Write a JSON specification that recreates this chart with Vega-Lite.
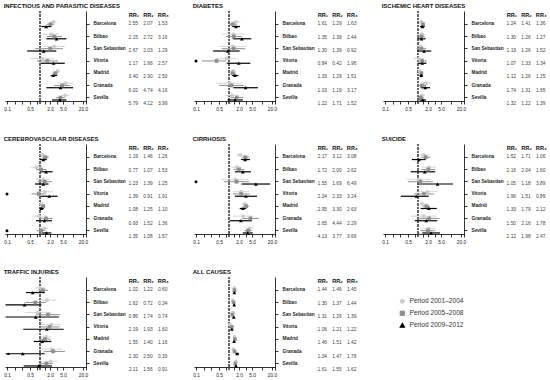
{
"$schema":"https://vega.github.io/schema/vega-lite/v6.json",
"padding":{"left":3,"top":2,"right":0,"bottom":0},
"datasets":{
"ci":[
{"c":"inf","city":"Barcelona","p":"Period 2001–2004","rr":2.55,"lo":2.0,"hi":3.2},
{"c":"inf","city":"Barcelona","p":"Period 2005–2008","rr":2.07,"lo":1.6,"hi":2.7},
{"c":"inf","city":"Barcelona","p":"Period 2009–2012","rr":1.53,"lo":1.1,"hi":2.2},
{"c":"inf","city":"Bilbao","p":"Period 2001–2004","rr":2.15,"lo":1.2,"hi":3.9},
{"c":"inf","city":"Bilbao","p":"Period 2005–2008","rr":2.72,"lo":1.6,"hi":4.6},
{"c":"inf","city":"Bilbao","p":"Period 2009–2012","rr":3.16,"lo":1.55,"hi":6.3},
{"c":"inf","city":"San Sebastian","p":"Period 2001–2004","rr":2.67,"lo":1.2,"hi":5.8},
{"c":"inf","city":"San Sebastian","p":"Period 2005–2008","rr":2.03,"lo":0.7,"hi":4.9},
{"c":"inf","city":"San Sebastian","p":"Period 2009–2012","rr":1.29,"lo":0.41,"hi":3.1},
{"c":"inf","city":"Vitoria","p":"Period 2001–2004","rr":1.17,"lo":0.5,"hi":2.7},
{"c":"inf","city":"Vitoria","p":"Period 2005–2008","rr":1.66,"lo":0.8,"hi":3.5},
{"c":"inf","city":"Vitoria","p":"Period 2009–2012","rr":2.57,"lo":1.05,"hi":5.6},
{"c":"inf","city":"Madrid","p":"Period 2001–2004","rr":3.40,"lo":2.8,"hi":4.1},
{"c":"inf","city":"Madrid","p":"Period 2005–2008","rr":2.90,"lo":2.4,"hi":3.5},
{"c":"inf","city":"Madrid","p":"Period 2009–2012","rr":2.50,"lo":2.1,"hi":3.3},
{"c":"inf","city":"Granada","p":"Period 2001–2004","rr":6.02,"lo":3.5,"hi":10.3},
{"c":"inf","city":"Granada","p":"Period 2005–2008","rr":4.74,"lo":2.7,"hi":8.3},
{"c":"inf","city":"Granada","p":"Period 2009–2012","rr":4.16,"lo":1.55,"hi":10.0},
{"c":"inf","city":"Sevilla","p":"Period 2001–2004","rr":5.79,"lo":4.3,"hi":7.8},
{"c":"inf","city":"Sevilla","p":"Period 2005–2008","rr":4.12,"lo":3.0,"hi":5.6},
{"c":"inf","city":"Sevilla","p":"Period 2009–2012","rr":3.99,"lo":2.3,"hi":6.3},
{"c":"dia","city":"Barcelona","p":"Period 2001–2004","rr":1.61,"lo":1.2,"hi":2.2},
{"c":"dia","city":"Barcelona","p":"Period 2005–2008","rr":1.29,"lo":1.0,"hi":1.7},
{"c":"dia","city":"Barcelona","p":"Period 2009–2012","rr":1.63,"lo":1.25,"hi":2.15},
{"c":"dia","city":"Bilbao","p":"Period 2001–2004","rr":1.35,"lo":0.6,"hi":2.9},
{"c":"dia","city":"Bilbao","p":"Period 2005–2008","rr":1.39,"lo":0.8,"hi":2.4},
{"c":"dia","city":"Bilbao","p":"Period 2009–2012","rr":2.44,"lo":1.3,"hi":4.7},
{"c":"dia","city":"San Sebastian","p":"Period 2001–2004","rr":1.30,"lo":0.5,"hi":3.4},
{"c":"dia","city":"San Sebastian","p":"Period 2005–2008","rr":1.39,"lo":0.6,"hi":3.1},
{"c":"dia","city":"San Sebastian","p":"Period 2009–2012","rr":0.92,"lo":0.33,"hi":2.1},
{"c":"dia","city":"Vitoria","p":"Period 2001–2004","rr":0.84,"lo":0.4,"hi":1.8},
{"c":"dia","city":"Vitoria","p":"Period 2005–2008","rr":0.42,"lo":0.15,"hi":0.8},
{"c":"dia","city":"Vitoria","p":"Period 2009–2012","rr":1.96,"lo":0.85,"hi":4.4},
{"c":"dia","city":"Madrid","p":"Period 2001–2004","rr":1.33,"lo":1.1,"hi":1.6},
{"c":"dia","city":"Madrid","p":"Period 2005–2008","rr":1.29,"lo":1.05,"hi":1.6},
{"c":"dia","city":"Madrid","p":"Period 2009–2012","rr":1.51,"lo":1.25,"hi":1.9},
{"c":"dia","city":"Granada","p":"Period 2001–2004","rr":1.03,"lo":0.4,"hi":2.6},
{"c":"dia","city":"Granada","p":"Period 2005–2008","rr":1.19,"lo":0.5,"hi":2.8},
{"c":"dia","city":"Granada","p":"Period 2009–2012","rr":3.17,"lo":1.35,"hi":7.5},
{"c":"dia","city":"Sevilla","p":"Period 2001–2004","rr":1.22,"lo":0.75,"hi":2.0},
{"c":"dia","city":"Sevilla","p":"Period 2005–2008","rr":1.71,"lo":1.1,"hi":2.7},
{"c":"dia","city":"Sevilla","p":"Period 2009–2012","rr":1.52,"lo":0.9,"hi":2.6},
{"c":"isc","city":"Barcelona","p":"Period 2001–2004","rr":1.24,"lo":1.05,"hi":1.45},
{"c":"isc","city":"Barcelona","p":"Period 2005–2008","rr":1.41,"lo":1.2,"hi":1.65},
{"c":"isc","city":"Barcelona","p":"Period 2009–2012","rr":1.36,"lo":1.15,"hi":1.6},
{"c":"isc","city":"Bilbao","p":"Period 2001–2004","rr":1.30,"lo":1.0,"hi":1.7},
{"c":"isc","city":"Bilbao","p":"Period 2005–2008","rr":1.26,"lo":0.98,"hi":1.6},
{"c":"isc","city":"Bilbao","p":"Period 2009–2012","rr":1.27,"lo":0.95,"hi":1.7},
{"c":"isc","city":"San Sebastian","p":"Period 2001–2004","rr":1.19,"lo":0.85,"hi":1.65},
{"c":"isc","city":"San Sebastian","p":"Period 2005–2008","rr":1.26,"lo":0.9,"hi":1.75},
{"c":"isc","city":"San Sebastian","p":"Period 2009–2012","rr":1.52,"lo":0.95,"hi":2.5},
{"c":"isc","city":"Vitoria","p":"Period 2001–2004","rr":1.07,"lo":0.72,"hi":1.55},
{"c":"isc","city":"Vitoria","p":"Period 2005–2008","rr":1.33,"lo":0.95,"hi":1.85},
{"c":"isc","city":"Vitoria","p":"Period 2009–2012","rr":1.34,"lo":1.0,"hi":1.8},
{"c":"isc","city":"Madrid","p":"Period 2001–2004","rr":1.12,"lo":1.0,"hi":1.25},
{"c":"isc","city":"Madrid","p":"Period 2005–2008","rr":1.26,"lo":1.12,"hi":1.4},
{"c":"isc","city":"Madrid","p":"Period 2009–2012","rr":1.25,"lo":1.12,"hi":1.4},
{"c":"isc","city":"Granada","p":"Period 2001–2004","rr":1.74,"lo":1.3,"hi":2.4},
{"c":"isc","city":"Granada","p":"Period 2005–2008","rr":1.31,"lo":0.98,"hi":1.75},
{"c":"isc","city":"Granada","p":"Period 2009–2012","rr":1.65,"lo":1.2,"hi":2.3},
{"c":"isc","city":"Sevilla","p":"Period 2001–2004","rr":1.32,"lo":1.05,"hi":1.65},
{"c":"isc","city":"Sevilla","p":"Period 2005–2008","rr":1.22,"lo":0.98,"hi":1.5},
{"c":"isc","city":"Sevilla","p":"Period 2009–2012","rr":1.39,"lo":1.1,"hi":1.75},
{"c":"cer","city":"Barcelona","p":"Period 2001–2004","rr":1.19,"lo":0.95,"hi":1.5},
{"c":"cer","city":"Barcelona","p":"Period 2005–2008","rr":1.46,"lo":1.15,"hi":1.85},
{"c":"cer","city":"Barcelona","p":"Period 2009–2012","rr":1.26,"lo":1.0,"hi":1.6},
{"c":"cer","city":"Bilbao","p":"Period 2001–2004","rr":0.77,"lo":0.5,"hi":1.2},
{"c":"cer","city":"Bilbao","p":"Period 2005–2008","rr":1.07,"lo":0.75,"hi":1.55},
{"c":"cer","city":"Bilbao","p":"Period 2009–2012","rr":1.53,"lo":1.0,"hi":2.4},
{"c":"cer","city":"San Sebastian","p":"Period 2001–2004","rr":1.23,"lo":0.75,"hi":2.0},
{"c":"cer","city":"San Sebastian","p":"Period 2005–2008","rr":1.39,"lo":0.85,"hi":2.3},
{"c":"cer","city":"San Sebastian","p":"Period 2009–2012","rr":1.25,"lo":0.7,"hi":1.8},
{"c":"cer","city":"Vitoria","p":"Period 2001–2004","rr":1.39,"lo":0.8,"hi":2.4},
{"c":"cer","city":"Vitoria","p":"Period 2005–2008","rr":0.91,"lo":0.55,"hi":1.5},
{"c":"cer","city":"Vitoria","p":"Period 2009–2012","rr":1.91,"lo":1.05,"hi":3.4},
{"c":"cer","city":"Madrid","p":"Period 2001–2004","rr":1.08,"lo":0.95,"hi":1.25},
{"c":"cer","city":"Madrid","p":"Period 2005–2008","rr":1.25,"lo":1.1,"hi":1.45},
{"c":"cer","city":"Madrid","p":"Period 2009–2012","rr":1.10,"lo":0.97,"hi":1.3},
{"c":"cer","city":"Granada","p":"Period 2001–2004","rr":0.93,"lo":0.55,"hi":1.6},
{"c":"cer","city":"Granada","p":"Period 2005–2008","rr":1.52,"lo":0.95,"hi":2.45},
{"c":"cer","city":"Granada","p":"Period 2009–2012","rr":1.36,"lo":0.75,"hi":2.3},
{"c":"cer","city":"Sevilla","p":"Period 2001–2004","rr":1.35,"lo":1.0,"hi":1.8},
{"c":"cer","city":"Sevilla","p":"Period 2005–2008","rr":1.08,"lo":0.8,"hi":1.45},
{"c":"cer","city":"Sevilla","p":"Period 2009–2012","rr":1.57,"lo":1.1,"hi":2.2},
{"c":"cir","city":"Barcelona","p":"Period 2001–2004","rr":2.17,"lo":1.6,"hi":2.9},
{"c":"cir","city":"Barcelona","p":"Period 2005–2008","rr":3.12,"lo":2.4,"hi":4.1},
{"c":"cir","city":"Barcelona","p":"Period 2009–2012","rr":3.08,"lo":2.3,"hi":4.3},
{"c":"cir","city":"Bilbao","p":"Period 2001–2004","rr":1.72,"lo":1.2,"hi":2.5},
{"c":"cir","city":"Bilbao","p":"Period 2005–2008","rr":2.00,"lo":1.4,"hi":2.9},
{"c":"cir","city":"Bilbao","p":"Period 2009–2012","rr":2.62,"lo":1.5,"hi":4.6},
{"c":"cir","city":"San Sebastian","p":"Period 2001–2004","rr":1.55,"lo":0.6,"hi":3.9},
{"c":"cir","city":"San Sebastian","p":"Period 2005–2008","rr":1.69,"lo":0.7,"hi":4.1},
{"c":"cir","city":"San Sebastian","p":"Period 2009–2012","rr":6.49,"lo":2.4,"hi":17.5},
{"c":"cir","city":"Vitoria","p":"Period 2001–2004","rr":2.34,"lo":1.3,"hi":4.2},
{"c":"cir","city":"Vitoria","p":"Period 2005–2008","rr":2.33,"lo":1.3,"hi":4.2},
{"c":"cir","city":"Vitoria","p":"Period 2009–2012","rr":3.24,"lo":1.5,"hi":7.0},
{"c":"cir","city":"Madrid","p":"Period 2001–2004","rr":2.95,"lo":2.4,"hi":3.6},
{"c":"cir","city":"Madrid","p":"Period 2005–2008","rr":3.30,"lo":2.7,"hi":4.0},
{"c":"cir","city":"Madrid","p":"Period 2009–2012","rr":2.63,"lo":2.1,"hi":3.3},
{"c":"cir","city":"Granada","p":"Period 2001–2004","rr":2.65,"lo":1.3,"hi":5.4},
{"c":"cir","city":"Granada","p":"Period 2005–2008","rr":4.44,"lo":2.5,"hi":7.9},
{"c":"cir","city":"Granada","p":"Period 2009–2012","rr":2.29,"lo":1.05,"hi":4.9},
{"c":"cir","city":"Sevilla","p":"Period 2001–2004","rr":4.13,"lo":3.2,"hi":5.3},
{"c":"cir","city":"Sevilla","p":"Period 2005–2008","rr":3.77,"lo":2.9,"hi":4.9},
{"c":"cir","city":"Sevilla","p":"Period 2009–2012","rr":3.66,"lo":2.6,"hi":5.2},
{"c":"sui","city":"Barcelona","p":"Period 2001–2004","rr":1.52,"lo":1.1,"hi":2.1},
{"c":"sui","city":"Barcelona","p":"Period 2005–2008","rr":1.71,"lo":1.25,"hi":2.3},
{"c":"sui","city":"Barcelona","p":"Period 2009–2012","rr":1.06,"lo":0.65,"hi":1.7},
{"c":"sui","city":"Bilbao","p":"Period 2001–2004","rr":2.16,"lo":1.3,"hi":3.5},
{"c":"sui","city":"Bilbao","p":"Period 2005–2008","rr":2.04,"lo":1.25,"hi":3.3},
{"c":"sui","city":"Bilbao","p":"Period 2009–2012","rr":1.60,"lo":0.6,"hi":3.3},
{"c":"sui","city":"San Sebastian","p":"Period 2001–2004","rr":1.05,"lo":0.45,"hi":2.5},
{"c":"sui","city":"San Sebastian","p":"Period 2005–2008","rr":1.18,"lo":0.5,"hi":2.8},
{"c":"sui","city":"San Sebastian","p":"Period 2009–2012","rr":3.89,"lo":1.05,"hi":11.5},
{"c":"sui","city":"Vitoria","p":"Period 2001–2004","rr":1.96,"lo":1.0,"hi":3.8},
{"c":"sui","city":"Vitoria","p":"Period 2005–2008","rr":1.51,"lo":0.75,"hi":3.0},
{"c":"sui","city":"Vitoria","p":"Period 2009–2012","rr":0.89,"lo":0.3,"hi":2.1},
{"c":"sui","city":"Madrid","p":"Period 2001–2004","rr":1.33,"lo":1.0,"hi":1.8},
{"c":"sui","city":"Madrid","p":"Period 2005–2008","rr":1.79,"lo":1.35,"hi":2.35},
{"c":"sui","city":"Madrid","p":"Period 2009–2012","rr":2.12,"lo":1.2,"hi":3.7},
{"c":"sui","city":"Granada","p":"Period 2001–2004","rr":1.50,"lo":0.6,"hi":3.6},
{"c":"sui","city":"Granada","p":"Period 2005–2008","rr":2.16,"lo":1.0,"hi":4.5},
{"c":"sui","city":"Granada","p":"Period 2009–2012","rr":1.78,"lo":0.8,"hi":3.8},
{"c":"sui","city":"Sevilla","p":"Period 2001–2004","rr":2.12,"lo":1.3,"hi":3.4},
{"c":"sui","city":"Sevilla","p":"Period 2005–2008","rr":1.98,"lo":1.2,"hi":3.2},
{"c":"sui","city":"Sevilla","p":"Period 2009–2012","rr":2.47,"lo":1.35,"hi":4.6},
{"c":"tra","city":"Barcelona","p":"Period 2001–2004","rr":1.02,"lo":0.7,"hi":1.5},
{"c":"tra","city":"Barcelona","p":"Period 2005–2008","rr":1.22,"lo":0.85,"hi":1.75},
{"c":"tra","city":"Barcelona","p":"Period 2009–2012","rr":0.60,"lo":0.38,"hi":1.4},
{"c":"tra","city":"Bilbao","p":"Period 2001–2004","rr":1.62,"lo":0.85,"hi":3.1},
{"c":"tra","city":"Bilbao","p":"Period 2005–2008","rr":0.72,"lo":0.35,"hi":1.5},
{"c":"tra","city":"Bilbao","p":"Period 2009–2012","rr":0.34,"lo":0.09,"hi":1.1},
{"c":"tra","city":"San Sebastian","p":"Period 2001–2004","rr":0.86,"lo":0.35,"hi":2.2},
{"c":"tra","city":"San Sebastian","p":"Period 2005–2008","rr":1.74,"lo":0.75,"hi":4.1},
{"c":"tra","city":"San Sebastian","p":"Period 2009–2012","rr":0.74,"lo":0.09,"hi":3.7},
{"c":"tra","city":"Vitoria","p":"Period 2001–2004","rr":2.19,"lo":1.1,"hi":4.4},
{"c":"tra","city":"Vitoria","p":"Period 2005–2008","rr":1.93,"lo":0.95,"hi":3.9},
{"c":"tra","city":"Vitoria","p":"Period 2009–2012","rr":1.60,"lo":0.31,"hi":5.2},
{"c":"tra","city":"Madrid","p":"Period 2001–2004","rr":1.55,"lo":1.05,"hi":2.3},
{"c":"tra","city":"Madrid","p":"Period 2005–2008","rr":1.40,"lo":0.95,"hi":2.1},
{"c":"tra","city":"Madrid","p":"Period 2009–2012","rr":1.16,"lo":0.65,"hi":2.2},
{"c":"tra","city":"Granada","p":"Period 2001–2004","rr":2.30,"lo":1.15,"hi":4.6},
{"c":"tra","city":"Granada","p":"Period 2005–2008","rr":2.50,"lo":1.3,"hi":5.6},
{"c":"tra","city":"Granada","p":"Period 2009–2012","rr":0.30,"lo":0.09,"hi":1.4},
{"c":"tra","city":"Sevilla","p":"Period 2001–2004","rr":2.11,"lo":1.3,"hi":3.4},
{"c":"tra","city":"Sevilla","p":"Period 2005–2008","rr":1.56,"lo":0.95,"hi":2.5},
{"c":"tra","city":"Sevilla","p":"Period 2009–2012","rr":0.91,"lo":0.32,"hi":2.3},
{"c":"all","city":"Barcelona","p":"Period 2001–2004","rr":1.44,"lo":1.38,"hi":1.5},
{"c":"all","city":"Barcelona","p":"Period 2005–2008","rr":1.46,"lo":1.4,"hi":1.52},
{"c":"all","city":"Barcelona","p":"Period 2009–2012","rr":1.45,"lo":1.39,"hi":1.51},
{"c":"all","city":"Bilbao","p":"Period 2001–2004","rr":1.30,"lo":1.23,"hi":1.37},
{"c":"all","city":"Bilbao","p":"Period 2005–2008","rr":1.37,"lo":1.3,"hi":1.44},
{"c":"all","city":"Bilbao","p":"Period 2009–2012","rr":1.44,"lo":1.36,"hi":1.52},
{"c":"all","city":"San Sebastian","p":"Period 2001–2004","rr":1.31,"lo":1.22,"hi":1.4},
{"c":"all","city":"San Sebastian","p":"Period 2005–2008","rr":1.26,"lo":1.18,"hi":1.35},
{"c":"all","city":"San Sebastian","p":"Period 2009–2012","rr":1.39,"lo":1.3,"hi":1.49},
{"c":"all","city":"Vitoria","p":"Period 2001–2004","rr":1.06,"lo":0.98,"hi":1.15},
{"c":"all","city":"Vitoria","p":"Period 2005–2008","rr":1.21,"lo":1.12,"hi":1.3},
{"c":"all","city":"Vitoria","p":"Period 2009–2012","rr":1.22,"lo":1.13,"hi":1.32},
{"c":"all","city":"Madrid","p":"Period 2001–2004","rr":1.46,"lo":1.43,"hi":1.49},
{"c":"all","city":"Madrid","p":"Period 2005–2008","rr":1.51,"lo":1.48,"hi":1.54},
{"c":"all","city":"Madrid","p":"Period 2009–2012","rr":1.42,"lo":1.39,"hi":1.45},
{"c":"all","city":"Granada","p":"Period 2001–2004","rr":1.34,"lo":1.25,"hi":1.43},
{"c":"all","city":"Granada","p":"Period 2005–2008","rr":1.47,"lo":1.38,"hi":1.56},
{"c":"all","city":"Granada","p":"Period 2009–2012","rr":1.76,"lo":1.55,"hi":2.0},
{"c":"all","city":"Sevilla","p":"Period 2001–2004","rr":1.61,"lo":1.54,"hi":1.68},
{"c":"all","city":"Sevilla","p":"Period 2005–2008","rr":1.55,"lo":1.48,"hi":1.62},
{"c":"all","city":"Sevilla","p":"Period 2009–2012","rr":1.62,"lo":1.55,"hi":1.69}
],
"mk":[
{"c":"dia","city":"Vitoria","p":"Period 2005–2008","v":0.1},
{"c":"cer","city":"Vitoria","p":"Period 2005–2008","v":0.1},
{"c":"cer","city":"Sevilla","p":"Period 2005–2008","v":0.1},
{"c":"cir","city":"San Sebastian","p":"Period 2005–2008","v":0.1},
{"c":"tra","city":"Granada","p":"Period 2009–2012","v":0.11}
]
},
"data":{"name":"ci"},
"config":{
"font":"Liberation Sans",
"view":{"stroke":null},
"axis":{"grid":false,"domainColor":"#000","tickColor":"#000","labelColor":"#222","domainWidth":0.8,"tickWidth":0.8},
"axisBottom":{"tickSize":3,"labelFontSize":4.8,"labelPadding":2,"labelFlush":false,"labelOverlap":false,"offset":-3},
"axisRight":{"labelFontSize":4.7,"labelFontWeight":"bold","labelPadding":4,"tickSize":3},
"axisTop":{"labelFontSize":5.6,"labelFontWeight":"bold","domain":false,"ticks":false,"labelAngle":0,"labelColor":"#111","offset":-8},
"title":{"fontSize":6,"anchor":"start","color":"#111","offset":2,"fontWeight":"bold"},
"text":{"fontSize":4.9,"color":"#444"}
},
"spacing":24,
"vconcat":[
{"spacing":22,"hconcat":[
{"title":"INFECTIOUS AND PARASITIC DISEASES","spacing":0,"hconcat":[
{"width":81,"height":93,"transform":[{"filter":"datum.c=='inf'"}],"layer":[
{"mark":{"type":"rule","strokeDash":[2,1.5],"color":"#666","strokeWidth":0.7},"encoding":{"x":{"datum":1,"type":"quantitative","scale":{"type":"log","domain":[0.087,24.6],"nice":false},"axis":{"title":null,"values":[0.1,0.17,0.29,0.5,0.83,1.4,2,3.2,5,10,20],"labelExpr":"indexof([0.1,0.5,2,5,20], datum.value) >= 0 ? format(datum.value, '.1f') : ''"}}}},
{"mark":{"type":"rule"},"encoding":{"x":{"field":"lo","type":"quantitative"},"x2":{"field":"hi"},"y":{"field":"city","type":"nominal","scale":{"domain":["Barcelona","Bilbao","San Sebastian","Vitoria","Madrid","Granada","Sevilla"],"paddingInner":0,"paddingOuter":0.3,"align":1},"axis":{"orient":"right","title":null}},"yOffset":{"field":"p","type":"nominal","scale":{"type":"point","range":[3.6,8.2],"padding":0}},"color":{"field":"p","type":"nominal","title":null,"scale":{"domain":["Period 2001–2004","Period 2005–2008","Period 2009–2012"],"range":["#cccccc","#8f8f8f","#000000"]},"legend":{"orient":"none","legendX":394,"legendY":287,"labelFontSize":6.6,"symbolSize":18,"rowPadding":3,"labelColor":"#333","padding":0,"title":null}},"strokeWidth":{"field":"p","type":"ordinal","scale":{"domain":["Period 2001–2004","Period 2005–2008","Period 2009–2012"],"range":[0.8,1.2,1.8]},"legend":null}}},
{"mark":{"type":"point","filled":true,"opacity":1,"size":14},"encoding":{"x":{"field":"rr","type":"quantitative"},"y":{"field":"city","type":"nominal"},"yOffset":{"field":"p","type":"nominal"},"color":{"field":"p","type":"nominal","title":null,"legend":{"orient":"none","legendX":394,"legendY":287,"labelFontSize":6.6,"symbolSize":18,"rowPadding":3,"labelColor":"#333","padding":0,"title":null}},"shape":{"field":"p","type":"nominal","title":null,"scale":{"domain":["Period 2001–2004","Period 2005–2008","Period 2009–2012"],"range":["circle","square","triangle-up"]},"legend":{"orient":"none","legendX":394,"legendY":287,"labelFontSize":6.6,"symbolSize":18,"rowPadding":3,"labelColor":"#333","padding":0,"title":null}}}},
{"data":{"name":"mk"},"transform":[{"filter":"datum.c=='inf'"}],"mark":{"type":"point","filled":true,"opacity":1,"size":9,"color":"#000"},"encoding":{"x":{"field":"v","type":"quantitative"},"y":{"field":"city","type":"nominal"},"yOffset":{"field":"p","type":"nominal"},"shape":{"condition":{"test":"datum.c=='tra'","value":"triangle-up"},"value":"circle"}}}
]},
{"width":44,"height":93,"transform":[{"filter":"datum.c=='inf'"}],"mark":{"type":"text"},"encoding":{"x":{"field":"p","type":"nominal","scale":{"paddingInner":0,"paddingOuter":0},"axis":{"orient":"top","title":null,"labelExpr":"datum.value == 'Period 2001–2004' ? 'RR₁' : datum.value == 'Period 2005–2008' ? 'RR₂' : 'RR₃'"}},"y":{"field":"city","type":"nominal","scale":{"domain":["Barcelona","Bilbao","San Sebastian","Vitoria","Madrid","Granada","Sevilla"],"paddingInner":0,"paddingOuter":0.3,"align":1},"axis":null},"text":{"field":"rr","type":"quantitative","format":".2f"}}}
]},
{"title":"DIABETES","spacing":0,"hconcat":[
{"width":81,"height":93,"transform":[{"filter":"datum.c=='dia'"}],"layer":[
{"mark":{"type":"rule","strokeDash":[2,1.5],"color":"#666","strokeWidth":0.7},"encoding":{"x":{"datum":1,"type":"quantitative","scale":{"type":"log","domain":[0.087,24.6],"nice":false},"axis":{"title":null,"values":[0.1,0.17,0.29,0.5,0.83,1.4,2,3.2,5,10,20],"labelExpr":"indexof([0.1,0.5,2,5,20], datum.value) >= 0 ? format(datum.value, '.1f') : ''"}}}},
{"mark":{"type":"rule"},"encoding":{"x":{"field":"lo","type":"quantitative"},"x2":{"field":"hi"},"y":{"field":"city","type":"nominal","scale":{"domain":["Barcelona","Bilbao","San Sebastian","Vitoria","Madrid","Granada","Sevilla"],"paddingInner":0,"paddingOuter":0.3,"align":1},"axis":{"orient":"right","title":null}},"yOffset":{"field":"p","type":"nominal","scale":{"type":"point","range":[3.6,8.2],"padding":0}},"color":{"field":"p","type":"nominal","title":null},"strokeWidth":{"field":"p","type":"ordinal","legend":null}}},
{"mark":{"type":"point","filled":true,"opacity":1,"size":14},"encoding":{"x":{"field":"rr","type":"quantitative"},"y":{"field":"city","type":"nominal"},"yOffset":{"field":"p","type":"nominal"},"color":{"field":"p","type":"nominal","title":null},"shape":{"field":"p","type":"nominal","title":null}}},
{"data":{"name":"mk"},"transform":[{"filter":"datum.c=='dia'"}],"mark":{"type":"point","filled":true,"opacity":1,"size":9,"color":"#000"},"encoding":{"x":{"field":"v","type":"quantitative"},"y":{"field":"city","type":"nominal"},"yOffset":{"field":"p","type":"nominal"},"shape":{"condition":{"test":"datum.c=='tra'","value":"triangle-up"},"value":"circle"}}}
]},
{"width":44,"height":93,"transform":[{"filter":"datum.c=='dia'"}],"mark":{"type":"text"},"encoding":{"x":{"field":"p","type":"nominal","scale":{"paddingInner":0,"paddingOuter":0},"axis":{"orient":"top","title":null,"labelExpr":"datum.value == 'Period 2001–2004' ? 'RR₁' : datum.value == 'Period 2005–2008' ? 'RR₂' : 'RR₃'"}},"y":{"field":"city","type":"nominal","scale":{"domain":["Barcelona","Bilbao","San Sebastian","Vitoria","Madrid","Granada","Sevilla"],"paddingInner":0,"paddingOuter":0.3,"align":1},"axis":null},"text":{"field":"rr","type":"quantitative","format":".2f"}}}
]},
{"title":"ISCHEMIC HEART DISEASES","spacing":0,"hconcat":[
{"width":81,"height":93,"transform":[{"filter":"datum.c=='isc'"}],"layer":[
{"mark":{"type":"rule","strokeDash":[2,1.5],"color":"#666","strokeWidth":0.7},"encoding":{"x":{"datum":1,"type":"quantitative","scale":{"type":"log","domain":[0.087,24.6],"nice":false},"axis":{"title":null,"values":[0.1,0.17,0.29,0.5,0.83,1.4,2,3.2,5,10,20],"labelExpr":"indexof([0.1,0.5,2,5,20], datum.value) >= 0 ? format(datum.value, '.1f') : ''"}}}},
{"mark":{"type":"rule"},"encoding":{"x":{"field":"lo","type":"quantitative"},"x2":{"field":"hi"},"y":{"field":"city","type":"nominal","scale":{"domain":["Barcelona","Bilbao","San Sebastian","Vitoria","Madrid","Granada","Sevilla"],"paddingInner":0,"paddingOuter":0.3,"align":1},"axis":{"orient":"right","title":null}},"yOffset":{"field":"p","type":"nominal","scale":{"type":"point","range":[3.6,8.2],"padding":0}},"color":{"field":"p","type":"nominal","title":null},"strokeWidth":{"field":"p","type":"ordinal","legend":null}}},
{"mark":{"type":"point","filled":true,"opacity":1,"size":14},"encoding":{"x":{"field":"rr","type":"quantitative"},"y":{"field":"city","type":"nominal"},"yOffset":{"field":"p","type":"nominal"},"color":{"field":"p","type":"nominal","title":null},"shape":{"field":"p","type":"nominal","title":null}}},
{"data":{"name":"mk"},"transform":[{"filter":"datum.c=='isc'"}],"mark":{"type":"point","filled":true,"opacity":1,"size":9,"color":"#000"},"encoding":{"x":{"field":"v","type":"quantitative"},"y":{"field":"city","type":"nominal"},"yOffset":{"field":"p","type":"nominal"},"shape":{"condition":{"test":"datum.c=='tra'","value":"triangle-up"},"value":"circle"}}}
]},
{"width":44,"height":93,"transform":[{"filter":"datum.c=='isc'"}],"mark":{"type":"text"},"encoding":{"x":{"field":"p","type":"nominal","scale":{"paddingInner":0,"paddingOuter":0},"axis":{"orient":"top","title":null,"labelExpr":"datum.value == 'Period 2001–2004' ? 'RR₁' : datum.value == 'Period 2005–2008' ? 'RR₂' : 'RR₃'"}},"y":{"field":"city","type":"nominal","scale":{"domain":["Barcelona","Bilbao","San Sebastian","Vitoria","Madrid","Granada","Sevilla"],"paddingInner":0,"paddingOuter":0.3,"align":1},"axis":null},"text":{"field":"rr","type":"quantitative","format":".2f"}}}
]}
]},
{"spacing":22,"hconcat":[
{"title":"CEREBROVASCULAR DISEASES","spacing":0,"hconcat":[
{"width":81,"height":93,"transform":[{"filter":"datum.c=='cer'"}],"layer":[
{"mark":{"type":"rule","strokeDash":[2,1.5],"color":"#666","strokeWidth":0.7},"encoding":{"x":{"datum":1,"type":"quantitative","scale":{"type":"log","domain":[0.087,24.6],"nice":false},"axis":{"title":null,"values":[0.1,0.17,0.29,0.5,0.83,1.4,2,3.2,5,10,20],"labelExpr":"indexof([0.1,0.5,2,5,20], datum.value) >= 0 ? format(datum.value, '.1f') : ''"}}}},
{"mark":{"type":"rule"},"encoding":{"x":{"field":"lo","type":"quantitative"},"x2":{"field":"hi"},"y":{"field":"city","type":"nominal","scale":{"domain":["Barcelona","Bilbao","San Sebastian","Vitoria","Madrid","Granada","Sevilla"],"paddingInner":0,"paddingOuter":0.3,"align":1},"axis":{"orient":"right","title":null}},"yOffset":{"field":"p","type":"nominal","scale":{"type":"point","range":[3.6,8.2],"padding":0}},"color":{"field":"p","type":"nominal","title":null},"strokeWidth":{"field":"p","type":"ordinal","legend":null}}},
{"mark":{"type":"point","filled":true,"opacity":1,"size":14},"encoding":{"x":{"field":"rr","type":"quantitative"},"y":{"field":"city","type":"nominal"},"yOffset":{"field":"p","type":"nominal"},"color":{"field":"p","type":"nominal","title":null},"shape":{"field":"p","type":"nominal","title":null}}},
{"data":{"name":"mk"},"transform":[{"filter":"datum.c=='cer'"}],"mark":{"type":"point","filled":true,"opacity":1,"size":9,"color":"#000"},"encoding":{"x":{"field":"v","type":"quantitative"},"y":{"field":"city","type":"nominal"},"yOffset":{"field":"p","type":"nominal"},"shape":{"condition":{"test":"datum.c=='tra'","value":"triangle-up"},"value":"circle"}}}
]},
{"width":44,"height":93,"transform":[{"filter":"datum.c=='cer'"}],"mark":{"type":"text"},"encoding":{"x":{"field":"p","type":"nominal","scale":{"paddingInner":0,"paddingOuter":0},"axis":{"orient":"top","title":null,"labelExpr":"datum.value == 'Period 2001–2004' ? 'RR₁' : datum.value == 'Period 2005–2008' ? 'RR₂' : 'RR₃'"}},"y":{"field":"city","type":"nominal","scale":{"domain":["Barcelona","Bilbao","San Sebastian","Vitoria","Madrid","Granada","Sevilla"],"paddingInner":0,"paddingOuter":0.3,"align":1},"axis":null},"text":{"field":"rr","type":"quantitative","format":".2f"}}}
]},
{"title":"CIRRHOSIS","spacing":0,"hconcat":[
{"width":81,"height":93,"transform":[{"filter":"datum.c=='cir'"}],"layer":[
{"mark":{"type":"rule","strokeDash":[2,1.5],"color":"#666","strokeWidth":0.7},"encoding":{"x":{"datum":1,"type":"quantitative","scale":{"type":"log","domain":[0.087,24.6],"nice":false},"axis":{"title":null,"values":[0.1,0.17,0.29,0.5,0.83,1.4,2,3.2,5,10,20],"labelExpr":"indexof([0.1,0.5,2,5,20], datum.value) >= 0 ? format(datum.value, '.1f') : ''"}}}},
{"mark":{"type":"rule"},"encoding":{"x":{"field":"lo","type":"quantitative"},"x2":{"field":"hi"},"y":{"field":"city","type":"nominal","scale":{"domain":["Barcelona","Bilbao","San Sebastian","Vitoria","Madrid","Granada","Sevilla"],"paddingInner":0,"paddingOuter":0.3,"align":1},"axis":{"orient":"right","title":null}},"yOffset":{"field":"p","type":"nominal","scale":{"type":"point","range":[3.6,8.2],"padding":0}},"color":{"field":"p","type":"nominal","title":null},"strokeWidth":{"field":"p","type":"ordinal","legend":null}}},
{"mark":{"type":"point","filled":true,"opacity":1,"size":14},"encoding":{"x":{"field":"rr","type":"quantitative"},"y":{"field":"city","type":"nominal"},"yOffset":{"field":"p","type":"nominal"},"color":{"field":"p","type":"nominal","title":null},"shape":{"field":"p","type":"nominal","title":null}}},
{"data":{"name":"mk"},"transform":[{"filter":"datum.c=='cir'"}],"mark":{"type":"point","filled":true,"opacity":1,"size":9,"color":"#000"},"encoding":{"x":{"field":"v","type":"quantitative"},"y":{"field":"city","type":"nominal"},"yOffset":{"field":"p","type":"nominal"},"shape":{"condition":{"test":"datum.c=='tra'","value":"triangle-up"},"value":"circle"}}}
]},
{"width":44,"height":93,"transform":[{"filter":"datum.c=='cir'"}],"mark":{"type":"text"},"encoding":{"x":{"field":"p","type":"nominal","scale":{"paddingInner":0,"paddingOuter":0},"axis":{"orient":"top","title":null,"labelExpr":"datum.value == 'Period 2001–2004' ? 'RR₁' : datum.value == 'Period 2005–2008' ? 'RR₂' : 'RR₃'"}},"y":{"field":"city","type":"nominal","scale":{"domain":["Barcelona","Bilbao","San Sebastian","Vitoria","Madrid","Granada","Sevilla"],"paddingInner":0,"paddingOuter":0.3,"align":1},"axis":null},"text":{"field":"rr","type":"quantitative","format":".2f"}}}
]},
{"title":"SUICIDE","spacing":0,"hconcat":[
{"width":81,"height":93,"transform":[{"filter":"datum.c=='sui'"}],"layer":[
{"mark":{"type":"rule","strokeDash":[2,1.5],"color":"#666","strokeWidth":0.7},"encoding":{"x":{"datum":1,"type":"quantitative","scale":{"type":"log","domain":[0.087,24.6],"nice":false},"axis":{"title":null,"values":[0.1,0.17,0.29,0.5,0.83,1.4,2,3.2,5,10,20],"labelExpr":"indexof([0.1,0.5,2,5,20], datum.value) >= 0 ? format(datum.value, '.1f') : ''"}}}},
{"mark":{"type":"rule"},"encoding":{"x":{"field":"lo","type":"quantitative"},"x2":{"field":"hi"},"y":{"field":"city","type":"nominal","scale":{"domain":["Barcelona","Bilbao","San Sebastian","Vitoria","Madrid","Granada","Sevilla"],"paddingInner":0,"paddingOuter":0.3,"align":1},"axis":{"orient":"right","title":null}},"yOffset":{"field":"p","type":"nominal","scale":{"type":"point","range":[3.6,8.2],"padding":0}},"color":{"field":"p","type":"nominal","title":null},"strokeWidth":{"field":"p","type":"ordinal","legend":null}}},
{"mark":{"type":"point","filled":true,"opacity":1,"size":14},"encoding":{"x":{"field":"rr","type":"quantitative"},"y":{"field":"city","type":"nominal"},"yOffset":{"field":"p","type":"nominal"},"color":{"field":"p","type":"nominal","title":null},"shape":{"field":"p","type":"nominal","title":null}}},
{"data":{"name":"mk"},"transform":[{"filter":"datum.c=='sui'"}],"mark":{"type":"point","filled":true,"opacity":1,"size":9,"color":"#000"},"encoding":{"x":{"field":"v","type":"quantitative"},"y":{"field":"city","type":"nominal"},"yOffset":{"field":"p","type":"nominal"},"shape":{"condition":{"test":"datum.c=='tra'","value":"triangle-up"},"value":"circle"}}}
]},
{"width":44,"height":93,"transform":[{"filter":"datum.c=='sui'"}],"mark":{"type":"text"},"encoding":{"x":{"field":"p","type":"nominal","scale":{"paddingInner":0,"paddingOuter":0},"axis":{"orient":"top","title":null,"labelExpr":"datum.value == 'Period 2001–2004' ? 'RR₁' : datum.value == 'Period 2005–2008' ? 'RR₂' : 'RR₃'"}},"y":{"field":"city","type":"nominal","scale":{"domain":["Barcelona","Bilbao","San Sebastian","Vitoria","Madrid","Granada","Sevilla"],"paddingInner":0,"paddingOuter":0.3,"align":1},"axis":null},"text":{"field":"rr","type":"quantitative","format":".2f"}}}
]}
]},
{"spacing":22,"hconcat":[
{"title":"TRAFFIC INJURIES","spacing":0,"hconcat":[
{"width":81,"height":93,"transform":[{"filter":"datum.c=='tra'"}],"layer":[
{"mark":{"type":"rule","strokeDash":[2,1.5],"color":"#666","strokeWidth":0.7},"encoding":{"x":{"datum":1,"type":"quantitative","scale":{"type":"log","domain":[0.087,24.6],"nice":false},"axis":{"title":null,"values":[0.1,0.17,0.29,0.5,0.83,1.4,2,3.2,5,10,20],"labelExpr":"indexof([0.1,0.5,2,5,20], datum.value) >= 0 ? format(datum.value, '.1f') : ''"}}}},
{"mark":{"type":"rule"},"encoding":{"x":{"field":"lo","type":"quantitative"},"x2":{"field":"hi"},"y":{"field":"city","type":"nominal","scale":{"domain":["Barcelona","Bilbao","San Sebastian","Vitoria","Madrid","Granada","Sevilla"],"paddingInner":0,"paddingOuter":0.3,"align":1},"axis":{"orient":"right","title":null}},"yOffset":{"field":"p","type":"nominal","scale":{"type":"point","range":[3.6,8.2],"padding":0}},"color":{"field":"p","type":"nominal","title":null},"strokeWidth":{"field":"p","type":"ordinal","legend":null}}},
{"mark":{"type":"point","filled":true,"opacity":1,"size":14},"encoding":{"x":{"field":"rr","type":"quantitative"},"y":{"field":"city","type":"nominal"},"yOffset":{"field":"p","type":"nominal"},"color":{"field":"p","type":"nominal","title":null},"shape":{"field":"p","type":"nominal","title":null}}},
{"data":{"name":"mk"},"transform":[{"filter":"datum.c=='tra'"}],"mark":{"type":"point","filled":true,"opacity":1,"size":9,"color":"#000"},"encoding":{"x":{"field":"v","type":"quantitative"},"y":{"field":"city","type":"nominal"},"yOffset":{"field":"p","type":"nominal"},"shape":{"condition":{"test":"datum.c=='tra'","value":"triangle-up"},"value":"circle"}}}
]},
{"width":44,"height":93,"transform":[{"filter":"datum.c=='tra'"}],"mark":{"type":"text"},"encoding":{"x":{"field":"p","type":"nominal","scale":{"paddingInner":0,"paddingOuter":0},"axis":{"orient":"top","title":null,"labelExpr":"datum.value == 'Period 2001–2004' ? 'RR₁' : datum.value == 'Period 2005–2008' ? 'RR₂' : 'RR₃'"}},"y":{"field":"city","type":"nominal","scale":{"domain":["Barcelona","Bilbao","San Sebastian","Vitoria","Madrid","Granada","Sevilla"],"paddingInner":0,"paddingOuter":0.3,"align":1},"axis":null},"text":{"field":"rr","type":"quantitative","format":".2f"}}}
]},
{"title":"ALL CAUSES","spacing":0,"hconcat":[
{"width":81,"height":93,"transform":[{"filter":"datum.c=='all'"}],"layer":[
{"mark":{"type":"rule","strokeDash":[2,1.5],"color":"#666","strokeWidth":0.7},"encoding":{"x":{"datum":1,"type":"quantitative","scale":{"type":"log","domain":[0.087,24.6],"nice":false},"axis":{"title":null,"values":[0.1,0.17,0.29,0.5,0.83,1.4,2,3.2,5,10,20],"labelExpr":"indexof([0.1,0.5,2,5,20], datum.value) >= 0 ? format(datum.value, '.1f') : ''"}}}},
{"mark":{"type":"rule"},"encoding":{"x":{"field":"lo","type":"quantitative"},"x2":{"field":"hi"},"y":{"field":"city","type":"nominal","scale":{"domain":["Barcelona","Bilbao","San Sebastian","Vitoria","Madrid","Granada","Sevilla"],"paddingInner":0,"paddingOuter":0.3,"align":1},"axis":{"orient":"right","title":null}},"yOffset":{"field":"p","type":"nominal","scale":{"type":"point","range":[3.6,8.2],"padding":0}},"color":{"field":"p","type":"nominal","title":null},"strokeWidth":{"field":"p","type":"ordinal","legend":null}}},
{"mark":{"type":"point","filled":true,"opacity":1,"size":14},"encoding":{"x":{"field":"rr","type":"quantitative"},"y":{"field":"city","type":"nominal"},"yOffset":{"field":"p","type":"nominal"},"color":{"field":"p","type":"nominal","title":null},"shape":{"field":"p","type":"nominal","title":null}}},
{"data":{"name":"mk"},"transform":[{"filter":"datum.c=='all'"}],"mark":{"type":"point","filled":true,"opacity":1,"size":9,"color":"#000"},"encoding":{"x":{"field":"v","type":"quantitative"},"y":{"field":"city","type":"nominal"},"yOffset":{"field":"p","type":"nominal"},"shape":{"condition":{"test":"datum.c=='tra'","value":"triangle-up"},"value":"circle"}}}
]},
{"width":44,"height":93,"transform":[{"filter":"datum.c=='all'"}],"mark":{"type":"text"},"encoding":{"x":{"field":"p","type":"nominal","scale":{"paddingInner":0,"paddingOuter":0},"axis":{"orient":"top","title":null,"labelExpr":"datum.value == 'Period 2001–2004' ? 'RR₁' : datum.value == 'Period 2005–2008' ? 'RR₂' : 'RR₃'"}},"y":{"field":"city","type":"nominal","scale":{"domain":["Barcelona","Bilbao","San Sebastian","Vitoria","Madrid","Granada","Sevilla"],"paddingInner":0,"paddingOuter":0.3,"align":1},"axis":null},"text":{"field":"rr","type":"quantitative","format":".2f"}}}
]}
]}
]
}
